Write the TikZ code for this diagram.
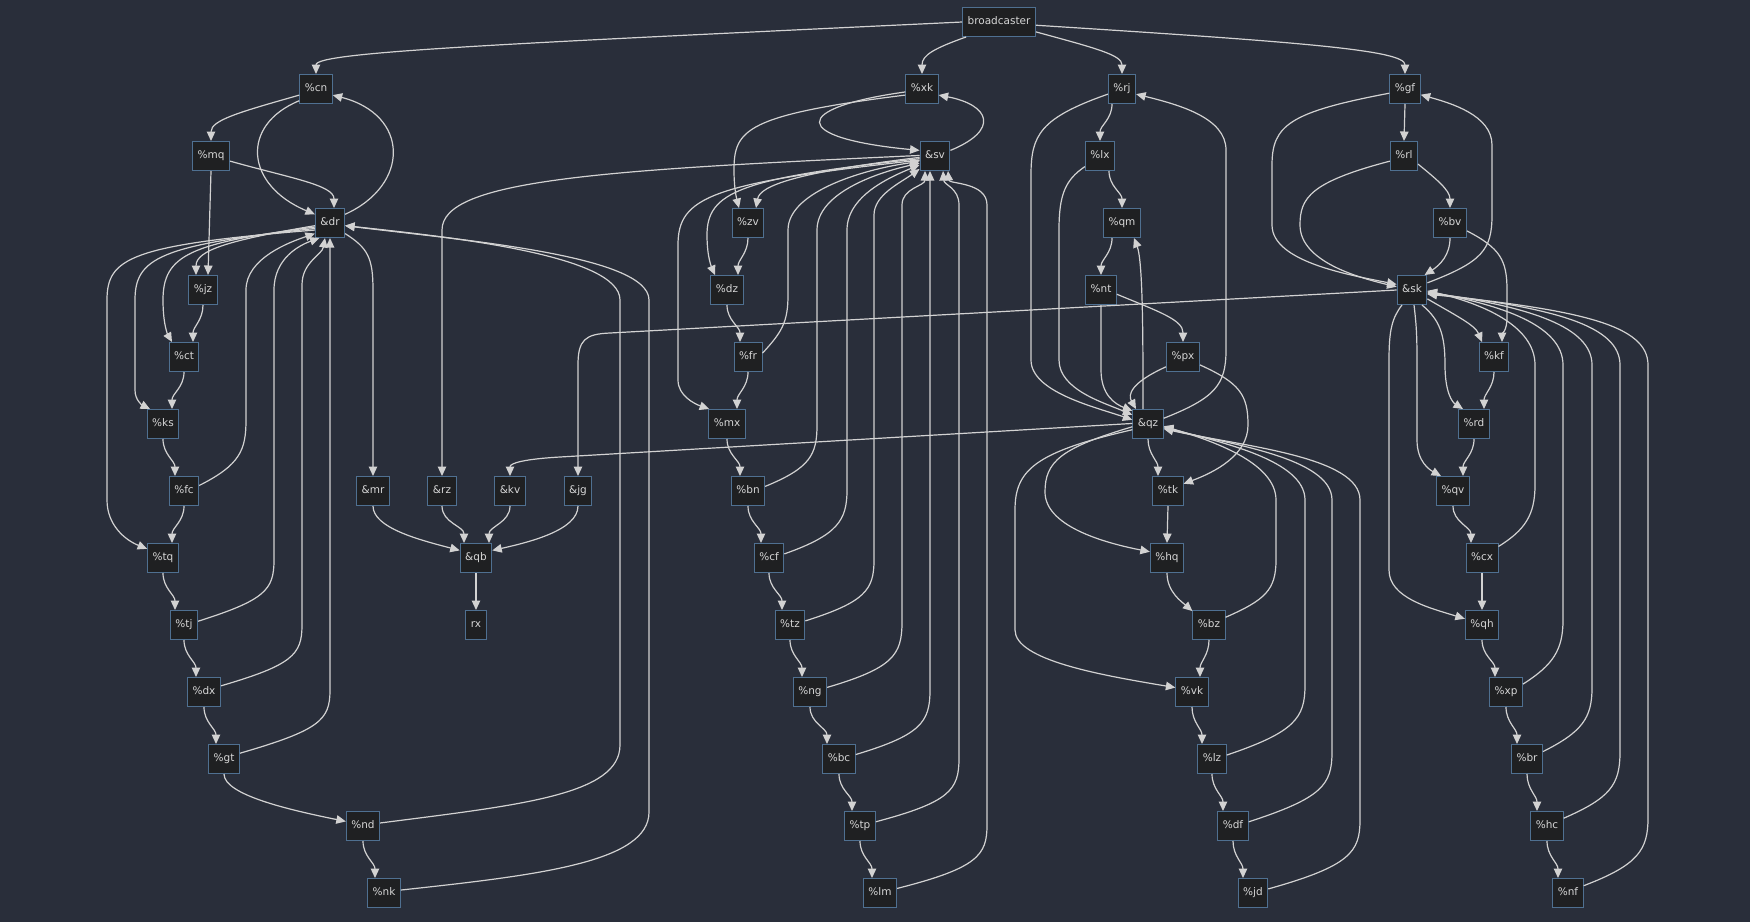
\documentclass[tikz,border=0pt]{standalone}
\usepackage{fontspec}
\setmainfont{DejaVu Sans}
\usetikzlibrary{arrows.meta}

\definecolor{canvas}{HTML}{292E3A}
\definecolor{boxfill}{HTML}{1F2022}
\definecolor{boxline}{HTML}{4F7091}
\definecolor{labeltext}{HTML}{D6D6D6}
\definecolor{wire}{HTML}{D2D2D2}

\tikzset{
  box/.style={draw=boxline, fill=boxfill, text=labeltext, line width=1pt,
    minimum height=29pt, inner xsep=5pt, inner ysep=0pt,
    text height=7.8pt, text depth=2pt, font=\fontsize{10.5}{12}\selectfont},
  link/.style={draw=wire, line width=1.2pt, -{Triangle[length=9.5pt,width=8.5pt]}},
}

\begin{document}
\begin{tikzpicture}[x=1pt,y=-1pt]
        % Background
        \fill[canvas] (0,0) rectangle (1750,922);
        \useasboundingbox (0,0) rectangle (1750,922);

        % Nodes
        \node[box] (broadcaster) at (999,22) {broadcaster};
        \node[box] (cn) at (316,89) {\%cn};
        \node[box] (xk) at (922,89) {\%xk};
        \node[box] (rj) at (1122,89) {\%rj};
        \node[box] (gf) at (1405,89) {\%gf};
        \node[box] (mq) at (211,156) {\%mq};
        \node[box] (sv) at (935,156) {\&sv};
        \node[box] (lx) at (1100,156) {\%lx};
        \node[box] (rl) at (1404,156) {\%rl};
        \node[box] (dr) at (330,223) {\&dr};
        \node[box] (zv) at (748,223) {\%zv};
        \node[box] (qm) at (1122,223) {\%qm};
        \node[box] (bv) at (1450,223) {\%bv};
        \node[box] (jz) at (203,290) {\%jz};
        \node[box] (dz) at (727,290) {\%dz};
        \node[box] (nt) at (1101,290) {\%nt};
        \node[box] (sk) at (1412,290) {\&sk};
        \node[box] (ct) at (184,357) {\%ct};
        \node[box] (fr) at (748,357) {\%fr};
        \node[box] (px) at (1183,357) {\%px};
        \node[box] (kf) at (1494,357) {\%kf};
        \node[box] (ks) at (163,424) {\%ks};
        \node[box] (mx) at (727,424) {\%mx};
        \node[box] (qz) at (1148,424) {\&qz};
        \node[box] (rd) at (1474,424) {\%rd};
        \node[box] (fc) at (184,491) {\%fc};
        \node[box] (mr) at (373,491) {\&mr};
        \node[box] (rz) at (442,491) {\&rz};
        \node[box] (kv) at (510,491) {\&kv};
        \node[box] (jg) at (578,491) {\&jg};
        \node[box] (bn) at (748,491) {\%bn};
        \node[box] (tk) at (1168,491) {\%tk};
        \node[box] (qv) at (1453,491) {\%qv};
        \node[box] (tq) at (163,558) {\%tq};
        \node[box] (qb) at (476,558) {\&qb};
        \node[box] (cf) at (769,558) {\%cf};
        \node[box] (hq) at (1167,558) {\%hq};
        \node[box] (cx) at (1482,558) {\%cx};
        \node[box] (tj) at (184,625) {\%tj};
        \node[box] (rx) at (476,625) {rx};
        \node[box] (tz) at (790,625) {\%tz};
        \node[box] (bz) at (1209,625) {\%bz};
        \node[box] (qh) at (1482,625) {\%qh};
        \node[box] (dx) at (204,692) {\%dx};
        \node[box] (ng) at (810,692) {\%ng};
        \node[box] (vk) at (1192,692) {\%vk};
        \node[box] (xp) at (1506,692) {\%xp};
        \node[box] (gt) at (224,759) {\%gt};
        \node[box] (bc) at (839,759) {\%bc};
        \node[box] (lz) at (1212,759) {\%lz};
        \node[box] (br) at (1527,759) {\%br};
        \node[box] (nd) at (363,826) {\%nd};
        \node[box] (tp) at (860,826) {\%tp};
        \node[box] (df) at (1233,826) {\%df};
        \node[box] (hc) at (1547,826) {\%hc};
        \node[box] (nk) at (384,893) {\%nk};
        \node[box] (lm) at (880,893) {\%lm};
        \node[box] (jd) at (1253,893) {\%jd};
        \node[box] (nf) at (1568,893) {\%nf};

        % broadcaster
        \draw[link] (broadcaster.west) .. controls (500,44) and (316,52) .. (cn.north);
        \draw[link] ([xshift=4pt]broadcaster.south west) .. controls (935,48) and (922,55) .. (xk.north);
        \draw[link] (broadcaster.-15) .. controls (1095,48) and (1122,55) .. (rj.north);
        \draw[link] (broadcaster.-5) .. controls (1300,42) and (1405,50) .. (gf.north);

        % &dr group
        \draw[link] (cn.200) .. controls (240,112) and (211,120) .. (mq.north);
        \draw[link] (cn.215) .. controls (240,125) and (245,185) .. (dr.150);
        \draw[link] (dr.30) .. controls (410,185) and (410,115) .. (cn.-20);
        \draw[link] (mq.-15) .. controls (290,178) and (334,185) .. ([xshift=4pt]dr.north);
        \draw[link] (mq.south) -- ([xshift=5pt]jz.north);
        \draw[link] (dr.190) .. controls (230,240) and (196,250) .. ([xshift=-7pt]jz.north);
        \draw[link] (dr.195) .. controls (190,243) and (163,255) .. (163,300) .. controls (163,325) and (168,335) .. ([xshift=-12pt]ct.north);
        \draw[link] (dr.200) .. controls (160,245) and (135,258) .. (135,300) -- (135,390) .. controls (135,400) and (142,405) .. ([xshift=-13pt]ks.north);
        \draw[link] (dr.205) .. controls (130,245) and (107,258) .. (107,300) -- (107,500) .. controls (107,525) and (125,540) .. (tq.150);
        \draw[link] (jz.south) to[out=-90,in=90] ([xshift=9pt]ct.north);
        \draw[link] (ct.south) to[out=-90,in=90] ([xshift=9pt]ks.north);
        \draw[link] (ks.south) to[out=-90,in=90] ([xshift=-9pt]fc.north);
        \draw[link] (fc.20) .. controls (240,465) and (246,450) .. (246,420) -- (246,290) .. controls (246,258) and (290,242) .. (dr.215);
        \draw[link] (fc.south) to[out=-90,in=90] ([xshift=9pt]tq.north);
        \draw[link] (tq.south) to[out=-90,in=90] ([xshift=-9pt]tj.north);
        \draw[link] (tj.15) .. controls (265,600) and (274,590) .. (274,560) -- (274,290) .. controls (274,258) and (300,245) .. (dr.235);
        \draw[link] (tj.south) to[out=-90,in=90] ([xshift=-8pt]dx.north);
        \draw[link] (dx.20) .. controls (292,665) and (302,655) .. (302,625) -- (302,285) .. controls (302,262) and (322,255) .. ([xshift=-5pt]dr.south);
        \draw[link] (dx.south) to[out=-90,in=90] ([xshift=-8pt]gt.north);
        \draw[link] (gt.20) .. controls (320,730) and (330,720) .. (330,690) -- (dr.south);
        \draw[link] (gt.south) .. controls (224,795) and (290,810) .. (nd.165);
        \draw[link] (nd.south) to[out=-90,in=90] ([xshift=-9pt]nk.north);
        \draw[link] (nd.10) .. controls (520,805) and (620,795) .. (620,745) -- (620,300) .. controls (620,255) and (450,237) .. (dr.-10);
        \draw[link] (nk.10) .. controls (540,875) and (649,862) .. (649,812) -- (649,300) .. controls (649,255) and (460,240) .. (dr.-10);
        \draw[link] (dr.-35) .. controls (368,248) and (373,258) .. (373,290) -- (mr.north);

        % &qb group
        \draw[link] (mr.south) .. controls (373,528) and (420,540) .. (qb.155);
        \draw[link] (rz.south) to[out=-90,in=90] ([xshift=-12pt]qb.north);
        \draw[link] (kv.south) to[out=-90,in=90] ([xshift=13pt]qb.north);
        \draw[link] (jg.south) .. controls (578,530) and (530,542) .. (qb.25);
        \draw[link] (qb.south) -- (rx.north);
        \draw[link] (sv.178) .. controls (600,170) and (442,180) .. (442,230) -- (rz.north);
        \draw[link] (qz.178) -- (560,457) .. controls (525,459) and (510,463) .. (kv.north);
        \draw[link] (sk.west) -- (610,333) .. controls (585,334) and (578,340) .. (578,365) -- (jg.north);

        % &sv group
        \draw[link] (xk.190) .. controls (790,108) and (790,138) .. (sv.160);
        \draw[link] (sv.20) .. controls (1000,130) and (990,105) .. (xk.-20);
        \draw[link] (xk.200) .. controls (745,115) and (734,130) .. (734,170) .. controls (734,190) and (737,200) .. ([xshift=-9pt]zv.north);
        \draw[link] (sv.185) .. controls (800,172) and (760,185) .. ([xshift=8pt]zv.north);
        \draw[link] (sv.190) .. controls (740,178) and (707,192) .. (707,235) .. controls (707,258) and (712,268) .. ([xshift=-12pt]dz.north);
        \draw[link] (zv.south) to[out=-90,in=90] ([xshift=11pt]dz.north);
        \draw[link] (dz.south) to[out=-90,in=90] ([xshift=-8pt]fr.north);
        \draw[link] (fr.15) .. controls (782,332) and (788,322) .. (788,295) -- (788,230) .. controls (788,190) and (870,168) .. (sv.200);
        \draw[link] (fr.south) to[out=-90,in=90] ([xshift=10pt]mx.north);
        \draw[link] (sv.195) .. controls (710,183) and (678,197) .. (678,245) -- (678,380) .. controls (678,396) and (695,404) .. (mx.140);
        \draw[link] (mx.south) to[out=-90,in=90] ([xshift=-8pt]bn.north);
        \draw[link] (bn.15) .. controls (810,468) and (817,455) .. (817,425) -- (817,230) .. controls (817,192) and (880,172) .. (sv.205);
        \draw[link] (bn.south) to[out=-90,in=90] ([xshift=-8pt]cf.north);
        \draw[link] (cf.15) .. controls (838,535) and (847,520) .. (847,490) -- (847,230) .. controls (847,196) and (890,177) .. (sv.210);
        \draw[link] (cf.south) to[out=-90,in=90] ([xshift=-8pt]tz.north);
        \draw[link] (tz.15) .. controls (865,602) and (874,590) .. (874,560) -- (874,215) .. controls (874,195) and (900,183) .. (sv.220);
        \draw[link] (tz.south) to[out=-90,in=90] ([xshift=-8pt]ng.north);
        \draw[link] (ng.15) .. controls (893,668) and (902,655) .. (902,622) -- (902,205) .. controls (902,188) and (925,186) .. ([xshift=-10pt]sv.south);
        \draw[link] (ng.south) to[out=-90,in=90] ([xshift=-12pt]bc.north);
        \draw[link] (bc.15) .. controls (921,735) and (930,722) .. (930,690) -- ([xshift=-5pt]sv.south);
        \draw[link] (bc.south) to[out=-90,in=90] ([xshift=-8pt]tp.north);
        \draw[link] (tp.15) .. controls (950,802) and (959,790) .. (959,758) -- (959,205) .. controls (959,188) and (944,185) .. ([xshift=8pt]sv.south);
        \draw[link] (tp.south) to[out=-90,in=90] ([xshift=-8pt]lm.north);
        \draw[link] (lm.15) .. controls (978,868) and (987,855) .. (987,825) -- (987,205) .. controls (987,182) and (949,184) .. ([xshift=13pt]sv.south);

        % &qz group
        \draw[link] ([xshift=-10pt]rj.south) to[out=-90,in=90] (lx.north);
        \draw[link] (rj.200) .. controls (1040,118) and (1031,135) .. (1031,175) -- (1031,360) .. controls (1031,392) and (1095,407) .. (qz.165);
        \draw[link] (qz.20) .. controls (1215,398) and (1226,385) .. (1226,350) -- (1226,150) .. controls (1226,118) and (1180,105) .. (rj.-20);
        \draw[link] ([xshift=9pt]lx.south) to[out=-90,in=90] (qm.north);
        \draw[link] (lx.215) .. controls (1065,180) and (1059,195) .. (1059,230) -- (1059,360) .. controls (1059,390) and (1105,403) .. (qz.150);
        \draw[link] ([xshift=-10pt]qm.south) to[out=-90,in=90] (nt.north);
        \draw[link] ([xshift=-5pt]qz.north) .. controls (1143,340) and (1143,262) .. ([xshift=12pt]qm.south);
        \draw[link] (nt.south) -- (1101,370) .. controls (1101,395) and (1115,404) .. (qz.140);
        \draw[link] (nt.-15) .. controls (1160,312) and (1183,320) .. (px.north);
        \draw[link] (px.210) .. controls (1130,383) and (1128,395) .. ([xshift=-12pt]qz.north);
        \draw[link] (px.-25) .. controls (1240,383) and (1248,395) .. (1248,425) .. controls (1248,455) and (1215,472) .. (tk.25);
        \draw[link] (qz.south) to[out=-90,in=90] ([xshift=-10pt]tk.north);
        \draw[link] (qz.190) .. controls (1060,448) and (1045,462) .. (1045,492) .. controls (1045,525) and (1100,542) .. (hq.160);
        \draw[link] (tk.south) -- (hq.north);
        \draw[link] (hq.south) .. controls (1167,592) and (1182,602) .. (bz.140);
        \draw[link] (bz.25) .. controls (1265,600) and (1276,590) .. (1276,560) -- (1276,500) .. controls (1276,462) and (1210,440) .. (qz.-8);
        \draw[link] (bz.south) to[out=-90,in=90] ([xshift=8pt]vk.north);
        \draw[link] (qz.200) .. controls (1035,452) and (1015,470) .. (1015,510) -- (1015,630) .. controls (1015,660) and (1100,675) .. (vk.165);
        \draw[link] (vk.south) to[out=-90,in=90] ([xshift=-10pt]lz.north);
        \draw[link] (lz.15) .. controls (1295,732) and (1305,718) .. (1305,685) -- (1305,500) .. controls (1305,460) and (1220,442) .. (qz.-11);
        \draw[link] (lz.south) to[out=-90,in=90] ([xshift=-10pt]df.north);
        \draw[link] (df.15) .. controls (1322,798) and (1332,785) .. (1332,752) -- (1332,500) .. controls (1332,458) and (1230,444) .. (qz.-14);
        \draw[link] (df.south) to[out=-90,in=90] ([xshift=-10pt]jd.north);
        \draw[link] (jd.15) .. controls (1350,866) and (1360,852) .. (1360,820) -- (1360,500) .. controls (1360,456) and (1240,446) .. (qz.-17);

        % &sk group
        \draw[link] (gf.south) -- (rl.north);
        \draw[link] (gf.195) .. controls (1290,112) and (1272,125) .. (1272,165) -- (1272,225) .. controls (1272,262) and (1350,275) .. (sk.160);
        \draw[link] (sk.25) .. controls (1482,262) and (1492,250) .. (1492,215) -- (1492,145) .. controls (1492,115) and (1450,103) .. (gf.-20);
        \draw[link] (rl.-30) .. controls (1435,178) and (1450,190) .. (bv.north);
        \draw[link] (rl.200) .. controls (1310,182) and (1300,198) .. (1300,225) .. controls (1300,262) and (1360,278) .. (sk.168);
        \draw[link] (bv.south) .. controls (1450,255) and (1440,265) .. (sk.50);
        \draw[link] (bv.-25) .. controls (1500,248) and (1507,260) .. (1507,290) -- (1507,318) .. controls (1507,330) and (1502,335) .. ([xshift=8pt]kf.north);
        \draw[link] (sk.-30) .. controls (1455,315) and (1475,325) .. ([xshift=-12pt]kf.north);
        \draw[link] ([xshift=10pt]sk.south) .. controls (1440,320) and (1445,335) .. (1445,365) .. controls (1445,392) and (1452,402) .. ([xshift=-11pt]rd.north);
        \draw[link] ([xshift=2pt]sk.south) .. controls (1416,322) and (1417,332) .. (1417,360) -- (1417,440) .. controls (1417,462) and (1430,470) .. ([xshift=-12pt]qv.north);
        \draw[link] ([xshift=-10pt]sk.south) .. controls (1392,318) and (1389,330) .. (1389,360) -- (1389,570) .. controls (1389,598) and (1430,608) .. (qh.160);
        \draw[link] (kf.south) to[out=-90,in=90] ([xshift=10pt]rd.north);
        \draw[link] (rd.south) to[out=-90,in=90] ([xshift=10pt]qv.north);
        \draw[link] (qv.south) to[out=-90,in=90] ([xshift=-11pt]cx.north);
        \draw[link] (cx.35) .. controls (1525,530) and (1535,515) .. (1535,485) -- (1535,365) .. controls (1535,325) and (1480,303) .. (sk.-3);
        \draw[link] (cx.south) -- (qh.north);
        \draw[link] (qh.south) to[out=-90,in=90] ([xshift=-11pt]xp.north);
        \draw[link] (xp.25) .. controls (1553,665) and (1563,650) .. (1563,620) -- (1563,365) .. controls (1563,325) and (1500,305) .. (sk.-6);
        \draw[link] (xp.south) to[out=-90,in=90] ([xshift=-10pt]br.north);
        \draw[link] (br.25) .. controls (1582,732) and (1592,718) .. (1592,688) -- (1592,365) .. controls (1592,327) and (1530,307) .. (sk.-9);
        \draw[link] (br.south) to[out=-90,in=90] ([xshift=-10pt]hc.north);
        \draw[link] (hc.25) .. controls (1610,798) and (1620,785) .. (1620,752) -- (1620,365) .. controls (1620,326) and (1555,308) .. (sk.-12);
        \draw[link] (hc.south) to[out=-90,in=90] ([xshift=-10pt]nf.north);
        \draw[link] (nf.25) .. controls (1638,865) and (1648,850) .. (1648,818) -- (1648,365) .. controls (1648,325) and (1580,310) .. (sk.-15);
\end{tikzpicture}
\end{document}
